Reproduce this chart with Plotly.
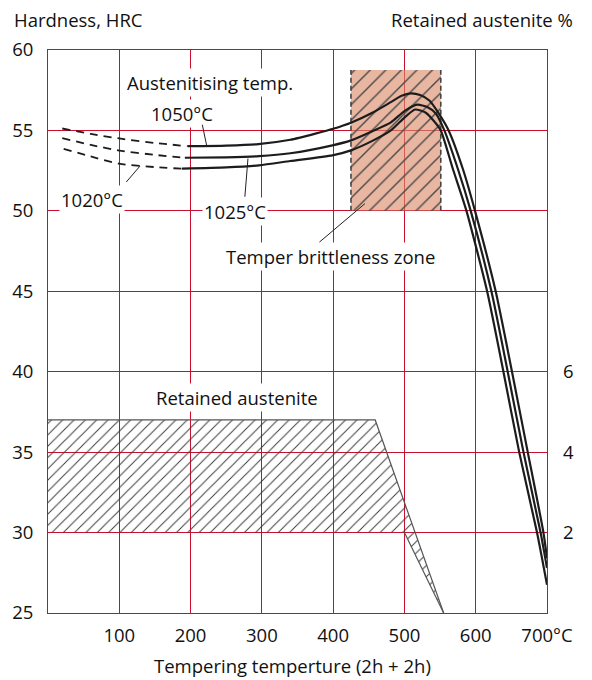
import plotly.graph_objects as go

# ---------------- data ----------------
x_ticks = [100, 200, 300, 400, 500, 600, 700]
x_ticktext = ["100", "200", "300", "400", "500", "600", "700°C"]
hrc_ticks = [25, 30, 35, 40, 45, 50, 55, 60]
ra_ticks = [2, 4, 6]

# Hardness curves (tempering temperature °C, HRC)
c1050_dash_x = [20, 60, 100, 150, 196]
c1050_dash_y = [55.12, 54.78, 54.5, 54.22, 54.02]
c1050_x = [196, 250, 295, 340, 375, 400, 425, 455, 481, 496, 509, 522, 535, 549, 562, 582, 599, 628, 650, 673, 695, 700]
c1050_y = [54.02, 54.06, 54.15, 54.42, 54.8, 55.1, 55.48, 56.1, 56.76, 57.15, 57.3, 57.2, 56.86, 56.0, 55.0, 52.6, 50.0, 45.0, 40.2, 35.0, 30.0, 28.4]

c1025_dash_x = [20, 60, 100, 150, 192]
c1025_dash_y = [54.52, 54.1, 53.75, 53.48, 53.3]
c1025_x = [192, 250, 296, 340, 399, 425, 455, 481, 500, 518, 532, 544, 556, 575, 593, 622, 644, 667, 691, 700]
c1025_y = [53.3, 53.33, 53.4, 53.58, 54.07, 54.38, 54.95, 55.5, 56.2, 56.6, 56.45, 56.05, 55.0, 52.6, 50.0, 45.0, 40.2, 35.0, 30.0, 27.8]

c1020_dash_x = [22, 60, 100, 150, 188]
c1020_dash_y = [53.86, 53.38, 52.93, 52.72, 52.62]
c1020_x = [188, 250, 296, 340, 399, 425, 455, 481, 500, 515, 530, 541, 551, 568, 587, 616, 638, 661, 686, 700]
c1020_y = [52.62, 52.7, 52.83, 53.1, 53.45, 53.76, 54.35, 55.0, 55.8, 56.3, 56.1, 55.6, 55.0, 52.6, 50.0, 45.0, 40.2, 35.0, 30.0, 26.75]

# Temper brittleness zone (°C range, HRC range)
tbz_x = [425, 551]
tbz_y = [50, 58.75]

# Retained austenite band (%), upper and lower bounds
ra_upper_x = [0, 459, 555]
ra_upper_y = [4.8, 4.8, 0]
ra_lower_x = [0, 500, 555]
ra_lower_y = [2.0, 2.0, 0]

# ---------------- style ----------------
RED = "#c8102e"
INK = "#1c1c1c"
FONT = "Open Sans"
FS = 18.5

fig = go.Figure()

# Temper brittleness zone
fig.add_trace(go.Scatter(
    x=[tbz_x[0], tbz_x[1], tbz_x[1], tbz_x[0], tbz_x[0]],
    y=[tbz_y[0], tbz_y[0], tbz_y[1], tbz_y[1], tbz_y[0]],
    mode="lines", line=dict(width=0), fill="toself",
    fillcolor="rgba(220,138,104,0.62)",
    fillpattern=dict(shape="/", fgcolor="#4a4a4a", bgcolor="rgba(220,138,104,0.62)",
                     size=11, solidity=0.13, fillmode="replace"),
    hoverinfo="skip", showlegend=False))
for xe in tbz_x:
    fig.add_trace(go.Scatter(x=[xe, xe], y=tbz_y, mode="lines",
                             line=dict(color="#444", width=1.6, dash="5px,3px"),
                             hoverinfo="skip", showlegend=False))

# Hardness curves
for dx, dy, sx, sy in [(c1050_dash_x, c1050_dash_y, c1050_x, c1050_y),
                       (c1025_dash_x, c1025_dash_y, c1025_x, c1025_y),
                       (c1020_dash_x, c1020_dash_y, c1020_x, c1020_y)]:
    fig.add_trace(go.Scatter(x=dx, y=dy, mode="lines",
                             line=dict(color=INK, width=1.8, dash="8px,6px", shape="spline", smoothing=0.6),
                             hoverinfo="skip", showlegend=False))
    fig.add_trace(go.Scatter(x=sx, y=sy, mode="lines",
                             line=dict(color=INK, width=2.2, shape="spline", smoothing=0.6),
                             hoverinfo="skip", showlegend=False))

# Retained austenite band on right axis
fig.add_trace(go.Scatter(
    x=ra_upper_x + ra_lower_x[::-1] + [ra_upper_x[0]],
    y=ra_upper_y + ra_lower_y[::-1] + [ra_upper_y[0]],
    yaxis="y2", mode="lines", line=dict(width=0), fill="toself",
    fillcolor="rgba(0,0,0,0)",
    fillpattern=dict(shape="/", fgcolor="#3a3a3a", bgcolor="rgba(0,0,0,0)",
                     size=8, solidity=0.12, fillmode="replace"),
    hoverinfo="skip", showlegend=False))
fig.add_trace(go.Scatter(x=ra_upper_x, y=ra_upper_y, yaxis="y2", mode="lines",
                         line=dict(color="#555", width=1.2), hoverinfo="skip", showlegend=False))
fig.add_trace(go.Scatter(x=ra_lower_x[1:], y=ra_lower_y[1:], yaxis="y2", mode="lines",
                         line=dict(color="#555", width=1.2), hoverinfo="skip", showlegend=False))

# ---------------- annotations ----------------
tf = dict(family=FONT, size=FS, color="#111")

def label(text, x, y):
    fig.add_annotation(x=x, y=y, xref="x", yref="y", text=text, showarrow=False,
                       font=tf, bgcolor="white", borderpad=1)

def pointer(x0, y0, x1, y1):
    fig.add_annotation(x=x1, y=y1, ax=x0, ay=y0, xref="x", yref="y", axref="x", ayref="y",
                       text="", showarrow=True, arrowhead=0, arrowwidth=1, arrowcolor="#222")

label("Austenitising temp.", 227, 58.0)
label("1050°C", 188.6, 56.06)
label("1020°C", 61.3, 50.71)
label("1025°C", 263, 49.99)
label("Temper brittleness zone", 396, 47.17)
label("Retained austenite", 264.6, 38.39)

pointer(216, 55.45, 222.6, 54.06)
pointer(108, 51.7, 129, 52.78)
pointer(276, 50.78, 280.5, 53.25)
pointer(378.7, 47.98, 444.6, 50.45)

fig.add_annotation(x=-0.0721, y=1.0533, xref="paper", yref="paper", text="Hardness, HRC",
                   showarrow=False, xanchor="left", yanchor="middle", font=tf)
fig.add_annotation(x=1.0561, y=1.0533, xref="paper", yref="paper", text="Retained austenite %",
                   showarrow=False, xanchor="right", yanchor="middle", font=tf)
fig.add_annotation(x=0.489, y=-0.0924, xref="paper", yref="paper", text="Tempering temperture (2h + 2h)",
                   showarrow=False, xanchor="center", yanchor="middle", font=tf)

# ---------------- layout ----------------
# page body adds an 8px offset, so the figure is 8px smaller than the window
fig.update_layout(
    width=584, height=672,
    margin=dict(l=40, r=45, t=42, b=67, autoexpand=False),
    paper_bgcolor="white", plot_bgcolor="white",
    font=tf, showlegend=False,
    xaxis=dict(range=[0, 700], tickvals=x_ticks, ticktext=x_ticktext, automargin=False,
               showgrid=True, gridcolor=RED, gridwidth=1, zeroline=False,
               showline=True, linecolor=RED, linewidth=1, mirror=True,
               ticks="", ticklabelstandoff=6, tickfont=tf, fixedrange=True),
    yaxis=dict(range=[25, 60], tickvals=hrc_ticks, automargin=False,
               showgrid=True, gridcolor=RED, gridwidth=1, zeroline=False,
               showline=True, linecolor=RED, linewidth=1, mirror=True,
               ticks="", ticklabelstandoff=10, tickfont=tf, fixedrange=True),
    yaxis2=dict(range=[0, 14], tickvals=ra_ticks, overlaying="y", side="right", automargin=False,
                showgrid=False, zeroline=False, showline=False,
                ticks="", ticklabelstandoff=15, tickfont=tf, fixedrange=True),
)

fig.write_html("out.html")
